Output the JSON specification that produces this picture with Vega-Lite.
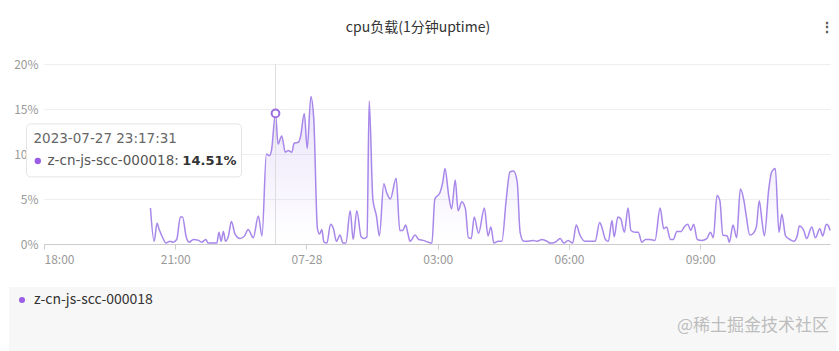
{
  "$schema": "https://vega.github.io/schema/vega-lite/v6.json",
  "width": 786,
  "height": 180,
  "autosize": "none",
  "padding": {"left": 44, "top": 64, "right": 9, "bottom": 107},
  "background": "white",
  "title": {"text": "cpu负载(1分钟uptime)", "fontSize": 14, "fontWeight": "normal", "color": "#333333", "anchor": "middle", "frame": "group", "dx": -19, "dy": 15, "offset": 0},
  "config": {
    "font": "Noto Sans CJK SC",
    "view": {"stroke": null},
    "axis": {"labelFont": "Noto Sans CJK SC", "titleFont": "Noto Sans CJK SC"}
  },
  "data": {"values": [
    {"t": "2023-07-27T20:26:00", "v": 0.040},
    {"t": "2023-07-27T20:31:00", "v": 0.003},
    {"t": "2023-07-27T20:35:00", "v": 0.023},
    {"t": "2023-07-27T20:38:00", "v": 0.016},
    {"t": "2023-07-27T20:44:00", "v": 0.005},
    {"t": "2023-07-27T20:47:00", "v": 0.001},
    {"t": "2023-07-27T20:53:00", "v": 0.003},
    {"t": "2023-07-27T20:57:00", "v": 0.002},
    {"t": "2023-07-27T21:02:00", "v": 0.005},
    {"t": "2023-07-27T21:07:00", "v": 0.030},
    {"t": "2023-07-27T21:10:00", "v": 0.030},
    {"t": "2023-07-27T21:15:00", "v": 0.008},
    {"t": "2023-07-27T21:19:00", "v": 0.002},
    {"t": "2023-07-27T21:25:00", "v": 0.005},
    {"t": "2023-07-27T21:32:00", "v": 0.004},
    {"t": "2023-07-27T21:36:00", "v": 0.002},
    {"t": "2023-07-27T21:42:00", "v": 0.005},
    {"t": "2023-07-27T21:45:00", "v": 0.001},
    {"t": "2023-07-27T21:52:00", "v": 0.001},
    {"t": "2023-07-27T21:57:00", "v": 0.001},
    {"t": "2023-07-27T22:00:00", "v": 0.013},
    {"t": "2023-07-27T22:03:00", "v": 0.003},
    {"t": "2023-07-27T22:06:00", "v": 0.014},
    {"t": "2023-07-27T22:09:00", "v": 0.003},
    {"t": "2023-07-27T22:13:00", "v": 0.009},
    {"t": "2023-07-27T22:17:00", "v": 0.025},
    {"t": "2023-07-27T22:22:00", "v": 0.011},
    {"t": "2023-07-27T22:29:00", "v": 0.006},
    {"t": "2023-07-27T22:35:00", "v": 0.009},
    {"t": "2023-07-27T22:40:00", "v": 0.016},
    {"t": "2023-07-27T22:47:00", "v": 0.007},
    {"t": "2023-07-27T22:54:00", "v": 0.031},
    {"t": "2023-07-27T22:59:00", "v": 0.009},
    {"t": "2023-07-27T23:05:00", "v": 0.100},
    {"t": "2023-07-27T23:09:00", "v": 0.098},
    {"t": "2023-07-27T23:12:00", "v": 0.104},
    {"t": "2023-07-27T23:17:31", "v": 0.1451},
    {"t": "2023-07-27T23:21:00", "v": 0.111},
    {"t": "2023-07-27T23:26:00", "v": 0.120},
    {"t": "2023-07-27T23:31:00", "v": 0.102},
    {"t": "2023-07-27T23:35:00", "v": 0.104},
    {"t": "2023-07-27T23:40:00", "v": 0.102},
    {"t": "2023-07-27T23:43:00", "v": 0.112},
    {"t": "2023-07-27T23:49:00", "v": 0.113},
    {"t": "2023-07-27T23:52:00", "v": 0.120},
    {"t": "2023-07-27T23:57:00", "v": 0.145},
    {"t": "2023-07-28T00:01:00", "v": 0.106},
    {"t": "2023-07-28T00:06:00", "v": 0.164},
    {"t": "2023-07-28T00:10:00", "v": 0.139},
    {"t": "2023-07-28T00:15:00", "v": 0.017},
    {"t": "2023-07-28T00:18:00", "v": 0.011},
    {"t": "2023-07-28T00:21:00", "v": 0.016},
    {"t": "2023-07-28T00:24:00", "v": 0.002},
    {"t": "2023-07-28T00:28:00", "v": 0.001},
    {"t": "2023-07-28T00:33:00", "v": 0.022},
    {"t": "2023-07-28T00:37:00", "v": 0.017},
    {"t": "2023-07-28T00:41:00", "v": 0.003},
    {"t": "2023-07-28T00:46:00", "v": 0.010},
    {"t": "2023-07-28T00:50:00", "v": 0.001},
    {"t": "2023-07-28T00:54:00", "v": 0.001},
    {"t": "2023-07-28T01:00:00", "v": 0.037},
    {"t": "2023-07-28T01:04:00", "v": 0.005},
    {"t": "2023-07-28T01:09:00", "v": 0.037},
    {"t": "2023-07-28T01:15:00", "v": 0.008},
    {"t": "2023-07-28T01:19:00", "v": 0.006},
    {"t": "2023-07-28T01:23:00", "v": 0.008},
    {"t": "2023-07-28T01:26:00", "v": 0.159},
    {"t": "2023-07-28T01:31:00", "v": 0.050},
    {"t": "2023-07-28T01:36:00", "v": 0.031},
    {"t": "2023-07-28T01:40:00", "v": 0.009},
    {"t": "2023-07-28T01:46:00", "v": 0.067},
    {"t": "2023-07-28T01:50:00", "v": 0.057},
    {"t": "2023-07-28T01:55:00", "v": 0.050},
    {"t": "2023-07-28T02:03:00", "v": 0.073},
    {"t": "2023-07-28T02:08:00", "v": 0.015},
    {"t": "2023-07-28T02:12:00", "v": 0.015},
    {"t": "2023-07-28T02:16:00", "v": 0.021},
    {"t": "2023-07-28T02:19:00", "v": 0.012},
    {"t": "2023-07-28T02:22:00", "v": 0.003},
    {"t": "2023-07-28T02:29:00", "v": 0.010},
    {"t": "2023-07-28T02:34:00", "v": 0.005},
    {"t": "2023-07-28T02:40:00", "v": 0.004},
    {"t": "2023-07-28T02:47:00", "v": 0.002},
    {"t": "2023-07-28T02:52:00", "v": 0.001},
    {"t": "2023-07-28T02:56:00", "v": 0.050},
    {"t": "2023-07-28T03:03:00", "v": 0.057},
    {"t": "2023-07-28T03:07:00", "v": 0.069},
    {"t": "2023-07-28T03:10:00", "v": 0.084},
    {"t": "2023-07-28T03:15:00", "v": 0.054},
    {"t": "2023-07-28T03:19:00", "v": 0.039},
    {"t": "2023-07-28T03:24:00", "v": 0.071},
    {"t": "2023-07-28T03:28:00", "v": 0.037},
    {"t": "2023-07-28T03:33:00", "v": 0.047},
    {"t": "2023-07-28T03:38:00", "v": 0.039},
    {"t": "2023-07-28T03:42:00", "v": 0.007},
    {"t": "2023-07-28T03:46:00", "v": 0.006},
    {"t": "2023-07-28T03:50:00", "v": 0.030},
    {"t": "2023-07-28T03:56:00", "v": 0.012},
    {"t": "2023-07-28T04:04:00", "v": 0.040},
    {"t": "2023-07-28T04:09:00", "v": 0.009},
    {"t": "2023-07-28T04:13:00", "v": 0.019},
    {"t": "2023-07-28T04:17:00", "v": 0.001},
    {"t": "2023-07-28T04:23:00", "v": 0.003},
    {"t": "2023-07-28T04:28:00", "v": 0.003},
    {"t": "2023-07-28T04:34:00", "v": 0.050},
    {"t": "2023-07-28T04:39:00", "v": 0.080},
    {"t": "2023-07-28T04:44:00", "v": 0.081},
    {"t": "2023-07-28T04:49:00", "v": 0.069},
    {"t": "2023-07-28T04:53:00", "v": 0.013},
    {"t": "2023-07-28T04:58:00", "v": 0.003},
    {"t": "2023-07-28T05:04:00", "v": 0.003},
    {"t": "2023-07-28T05:11:00", "v": 0.004},
    {"t": "2023-07-28T05:16:00", "v": 0.003},
    {"t": "2023-07-28T05:23:00", "v": 0.005},
    {"t": "2023-07-28T05:30:00", "v": 0.003},
    {"t": "2023-07-28T05:34:00", "v": 0.001},
    {"t": "2023-07-28T05:41:00", "v": 0.002},
    {"t": "2023-07-28T05:48:00", "v": 0.006},
    {"t": "2023-07-28T05:53:00", "v": 0.001},
    {"t": "2023-07-28T05:59:00", "v": 0.004},
    {"t": "2023-07-28T06:05:00", "v": 0.001},
    {"t": "2023-07-28T06:10:00", "v": 0.021},
    {"t": "2023-07-28T06:15:00", "v": 0.010},
    {"t": "2023-07-28T06:22:00", "v": 0.003},
    {"t": "2023-07-28T06:29:00", "v": 0.003},
    {"t": "2023-07-28T06:36:00", "v": 0.003},
    {"t": "2023-07-28T06:42:00", "v": 0.024},
    {"t": "2023-07-28T06:45:00", "v": 0.019},
    {"t": "2023-07-28T06:50:00", "v": 0.005},
    {"t": "2023-07-28T06:54:00", "v": 0.003},
    {"t": "2023-07-28T06:59:00", "v": 0.026},
    {"t": "2023-07-28T07:02:00", "v": 0.008},
    {"t": "2023-07-28T07:07:00", "v": 0.030},
    {"t": "2023-07-28T07:11:00", "v": 0.028},
    {"t": "2023-07-28T07:16:00", "v": 0.013},
    {"t": "2023-07-28T07:21:00", "v": 0.040},
    {"t": "2023-07-28T07:25:00", "v": 0.015},
    {"t": "2023-07-28T07:31:00", "v": 0.013},
    {"t": "2023-07-28T07:35:00", "v": 0.013},
    {"t": "2023-07-28T07:40:00", "v": 0.002},
    {"t": "2023-07-28T07:45:00", "v": 0.005},
    {"t": "2023-07-28T07:51:00", "v": 0.005},
    {"t": "2023-07-28T07:58:00", "v": 0.004},
    {"t": "2023-07-28T08:05:00", "v": 0.040},
    {"t": "2023-07-28T08:10:00", "v": 0.017},
    {"t": "2023-07-28T08:14:00", "v": 0.019},
    {"t": "2023-07-28T08:19:00", "v": 0.005},
    {"t": "2023-07-28T08:23:00", "v": 0.005},
    {"t": "2023-07-28T08:28:00", "v": 0.014},
    {"t": "2023-07-28T08:34:00", "v": 0.014},
    {"t": "2023-07-28T08:38:00", "v": 0.019},
    {"t": "2023-07-28T08:43:00", "v": 0.022},
    {"t": "2023-07-28T08:47:00", "v": 0.015},
    {"t": "2023-07-28T08:51:00", "v": 0.022},
    {"t": "2023-07-28T08:56:00", "v": 0.005},
    {"t": "2023-07-28T09:02:00", "v": 0.004},
    {"t": "2023-07-28T09:09:00", "v": 0.006},
    {"t": "2023-07-28T09:14:00", "v": 0.013},
    {"t": "2023-07-28T09:18:00", "v": 0.007},
    {"t": "2023-07-28T09:23:00", "v": 0.054},
    {"t": "2023-07-28T09:27:00", "v": 0.048},
    {"t": "2023-07-28T09:31:00", "v": 0.010},
    {"t": "2023-07-28T09:37:00", "v": 0.009},
    {"t": "2023-07-28T09:40:00", "v": 0.002},
    {"t": "2023-07-28T09:45:00", "v": 0.021},
    {"t": "2023-07-28T09:50:00", "v": 0.007},
    {"t": "2023-07-28T09:55:00", "v": 0.061},
    {"t": "2023-07-28T10:00:00", "v": 0.048},
    {"t": "2023-07-28T10:03:00", "v": 0.032},
    {"t": "2023-07-28T10:08:00", "v": 0.010},
    {"t": "2023-07-28T10:13:00", "v": 0.012},
    {"t": "2023-07-28T10:17:00", "v": 0.019},
    {"t": "2023-07-28T10:21:00", "v": 0.048},
    {"t": "2023-07-28T10:25:00", "v": 0.024},
    {"t": "2023-07-28T10:28:00", "v": 0.009},
    {"t": "2023-07-28T10:34:00", "v": 0.061},
    {"t": "2023-07-28T10:38:00", "v": 0.080},
    {"t": "2023-07-28T10:43:00", "v": 0.084},
    {"t": "2023-07-28T10:48:00", "v": 0.013},
    {"t": "2023-07-28T10:52:00", "v": 0.033},
    {"t": "2023-07-28T10:57:00", "v": 0.009},
    {"t": "2023-07-28T11:03:00", "v": 0.005},
    {"t": "2023-07-28T11:08:00", "v": 0.003},
    {"t": "2023-07-28T11:13:00", "v": 0.009},
    {"t": "2023-07-28T11:16:00", "v": 0.020},
    {"t": "2023-07-28T11:22:00", "v": 0.015},
    {"t": "2023-07-28T11:26:00", "v": 0.006},
    {"t": "2023-07-28T11:33:00", "v": 0.019},
    {"t": "2023-07-28T11:38:00", "v": 0.007},
    {"t": "2023-07-28T11:44:00", "v": 0.017},
    {"t": "2023-07-28T11:48:00", "v": 0.009},
    {"t": "2023-07-28T11:53:00", "v": 0.022},
    {"t": "2023-07-28T11:56:00", "v": 0.020},
    {"t": "2023-07-28T11:58:00", "v": 0.015}
  ]},
  "layer": [
    {
      "mark": {"type": "area", "interpolate": "monotone", "color": {"gradient": "linear", "x1": 1, "y1": 1, "x2": 1, "y2": 0, "stops": [{"offset": 0, "color": "rgba(168,138,234,0.0)"}, {"offset": 1, "color": "rgba(168,138,234,0.24)"}]}},
      "encoding": {
        "x": {"field": "t", "type": "temporal", "scale": {"domain": [{"year": 2023, "month": 7, "date": 27, "hours": 18}, {"year": 2023, "month": 7, "date": 28, "hours": 11, "minutes": 58}]},
          "axis": {"title": null, "grid": false, "domainColor": "#cccccc", "tickColor": "#cccccc", "tickSize": 5, "labelColor": "#999999", "labelFontSize": 12, "labelPadding": 5,
            "values": [{"year": 2023, "month": 7, "date": 27, "hours": 18}, {"year": 2023, "month": 7, "date": 27, "hours": 21}, {"year": 2023, "month": 7, "date": 28, "hours": 0}, {"year": 2023, "month": 7, "date": 28, "hours": 3}, {"year": 2023, "month": 7, "date": 28, "hours": 6}, {"year": 2023, "month": 7, "date": 28, "hours": 9}],
            "labelExpr": "hours(datum.value) == 0 ? timeFormat(datum.value, '%m-%d') : timeFormat(datum.value, '%H:%M')"}},
        "y": {"field": "v", "type": "quantitative", "scale": {"domain": [0, 0.2]},
          "axis": {"values": [0, 0.05, 0.1, 0.15, 0.2], "format": ".0%", "domain": false, "ticks": false, "gridColor": "#eeeeee", "labelColor": "#999999", "labelFontSize": 12, "labelPadding": 6,
            "title": "⋮", "titleX": 782, "titleY": -37, "titleAngle": 0, "titleAlign": "center", "titleBaseline": "middle", "titleFontSize": 14, "titleFontWeight": "bold", "titleColor": "#555555"}}
      }
    },
    {
      "mark": {"type": "line", "interpolate": "monotone", "strokeWidth": 1.5},
      "encoding": {
        "x": {"field": "t", "type": "temporal"},
        "y": {"field": "v", "type": "quantitative"},
        "color": {"datum": "z-cn-js-scc-000018", "scale": {"range": ["#a887ea"]},
          "legend": {"orient": "none", "legendX": -35, "legendY": 223, "direction": "horizontal", "fillColor": "#f7f7f7", "padding": 6,
            "title": ["", "@稀土掘金技术社区", ""], "titleOrient": "right", "titlePadding": 524, "titleFontSize": 17, "titleFontWeight": "normal", "titleColor": "#bdbdbd", "titleLineHeight": 25, "titleAnchor": "start",
            "labelFontSize": 14, "labelColor": "#333333", "labelOffset": 5, "symbolType": "circle", "symbolSize": 36, "symbolFillColor": "#9b5de5", "symbolStrokeWidth": 0}}
      }
    },
    {
      "transform": [{"filter": "datum.v === 0.1451"}],
      "mark": {"type": "rule", "color": "#dddddd", "strokeWidth": 1},
      "encoding": {"x": {"field": "t", "type": "temporal"}}
    },
    {
      "transform": [{"filter": "datum.v === 0.1451"}],
      "mark": {"type": "point", "filled": true, "fill": "white", "stroke": "#9b6be0", "strokeWidth": 2, "size": 60, "opacity": 1},
      "encoding": {"x": {"field": "t", "type": "temporal"}, "y": {"field": "v", "type": "quantitative"}}
    },
    {
      "transform": [{"filter": "datum.v === 0.1451"}],
      "mark": {"type": "rect", "width": 215, "height": 53, "xOffset": -141.5, "yOffset": 37, "fill": "white", "stroke": "#e4e4e4", "strokeWidth": 1, "cornerRadius": 4},
      "encoding": {"x": {"field": "t", "type": "temporal"}, "y": {"field": "v", "type": "quantitative"}}
    },
    {
      "transform": [{"filter": "datum.v === 0.1451"}],
      "mark": {"type": "text", "align": "left", "baseline": "middle", "dx": -242, "dy": 26, "fontSize": 13.5, "font": "DejaVu Sans", "color": "#666666"},
      "encoding": {"x": {"field": "t", "type": "temporal"}, "y": {"field": "v", "type": "quantitative"}, "text": {"field": "t", "type": "temporal", "format": "%Y-%m-%d %H:%M:%S"}}
    },
    {
      "transform": [{"filter": "datum.v === 0.1451"}],
      "mark": {"type": "point", "filled": true, "color": "#9b5de5", "size": 40, "opacity": 1, "xOffset": -237.7, "yOffset": 47.6},
      "encoding": {"x": {"field": "t", "type": "temporal"}, "y": {"field": "v", "type": "quantitative"}}
    },
    {
      "transform": [{"filter": "datum.v === 0.1451"}],
      "mark": {"type": "text", "align": "left", "baseline": "middle", "dx": -228, "dy": 47.6, "fontSize": 13.5, "font": "DejaVu Sans", "color": "#555555"},
      "encoding": {"x": {"field": "t", "type": "temporal"}, "y": {"field": "v", "type": "quantitative"}, "text": {"datum": "z-cn-js-scc-000018:"}}
    },
    {
      "transform": [{"filter": "datum.v === 0.1451"}],
      "mark": {"type": "text", "align": "right", "baseline": "middle", "dx": -39, "dy": 47.6, "fontSize": 13, "font": "DejaVu Sans", "fontWeight": "bold", "color": "#333333"},
      "encoding": {"x": {"field": "t", "type": "temporal"}, "y": {"field": "v", "type": "quantitative"}, "text": {"field": "v", "type": "quantitative", "format": ".2%"}}
    }
  ]
}
